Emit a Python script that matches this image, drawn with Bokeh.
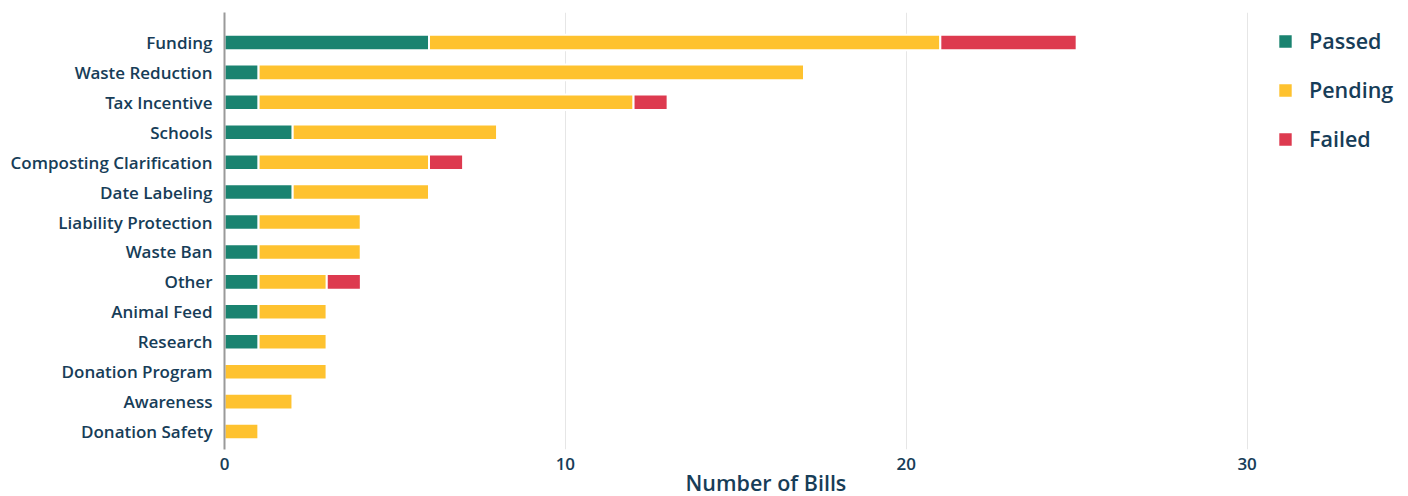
from bokeh.plotting import figure
from bokeh.models import ColumnDataSource, Range1d, FixedTicker, Title
from bokeh.embed import file_html
from bokeh.resources import INLINE

categories = ["Funding", "Waste Reduction", "Tax Incentive", "Schools",
              "Composting Clarification", "Date Labeling", "Liability Protection",
              "Waste Ban", "Other", "Animal Feed", "Research", "Donation Program",
              "Awareness", "Donation Safety"]
passed = [6, 1, 1, 2, 1, 2, 1, 1, 1, 1, 1, 0, 0, 0]
pending = [15, 16, 11, 6, 5, 4, 3, 3, 2, 2, 2, 3, 2, 1]
failed = [4, 0, 1, 0, 1, 0, 0, 0, 1, 0, 0, 0, 0, 0]
series = ["Passed", "Pending", "Failed"]
colors = ["#1a8370", "#fec22f", "#dd3a4f"]
x_ticks = [0, 10, 20, 30]

n = len(categories)
ypos = [n - 1 - i for i in range(n)]
src = ColumnDataSource(dict(y=ypos, Passed=passed, Pending=pending, Failed=failed))

TXT = "#173d58"
FONT = "'Open Sans SemiBold', 'Open Sans'"

p = figure(width=1408, height=496, output_backend="svg", toolbar_location=None,
           x_range=Range1d(0, 34.5), y_range=Range1d(-0.6, 14.0),
           min_border_left=224, min_border_right=8, min_border_top=12,
           min_border_bottom=47)
p.outline_line_color = None

renderers = p.hbar_stack(series, y="y", height=0.52, color=colors,
                         line_color="white", line_width=2, source=src,
                         legend_label=series)

p.yaxis.ticker = FixedTicker(ticks=ypos)
p.yaxis.major_label_overrides = {yv: c for yv, c in zip(ypos, categories)}
p.yaxis.major_tick_line_color = None
p.yaxis.major_tick_out = 0
p.yaxis.major_tick_in = 0
p.yaxis.minor_tick_line_color = None
p.yaxis.axis_line_color = "#9a9a9a"
p.yaxis.axis_line_width = 2
p.yaxis.major_label_text_font = FONT
p.yaxis.major_label_text_font_size = "17px"
p.yaxis.major_label_text_color = TXT
p.yaxis.major_label_standoff = 12

p.xaxis.ticker = FixedTicker(ticks=x_ticks)
p.xaxis.major_tick_line_color = None
p.xaxis.major_tick_out = 0
p.xaxis.major_tick_in = 0
p.xaxis.minor_tick_line_color = None
p.xaxis.axis_line_color = None
p.xaxis.major_label_text_font = FONT
p.xaxis.major_label_text_font_size = "17px"
p.xaxis.major_label_text_color = TXT
p.xaxis.major_label_standoff = 8

xt = Title(text="Number of Bills", align="left", offset=461, standoff=-14,
           text_font=FONT, text_font_size="21.5px", text_font_style="normal",
           text_color=TXT, text_line_height=1.0)
p.add_layout(xt, "below")

p.ygrid.grid_line_color = None
p.xgrid.grid_line_color = "#e6e6e6"
p.xgrid.grid_line_width = 1

lg = p.legend[0]
lg.location = (1052, 296)
lg.margin = 0
lg.padding = 0
lg.spacing = 20
lg.glyph_width = 18
lg.glyph_height = 18
lg.label_height = 27
lg.label_standoff = 15
lg.label_text_font = FONT
lg.label_text_font_size = "21.5px"
lg.label_text_color = TXT
lg.border_line_color = None
lg.background_fill_alpha = 0

open("out.html", "w").write(file_html(p, INLINE))
